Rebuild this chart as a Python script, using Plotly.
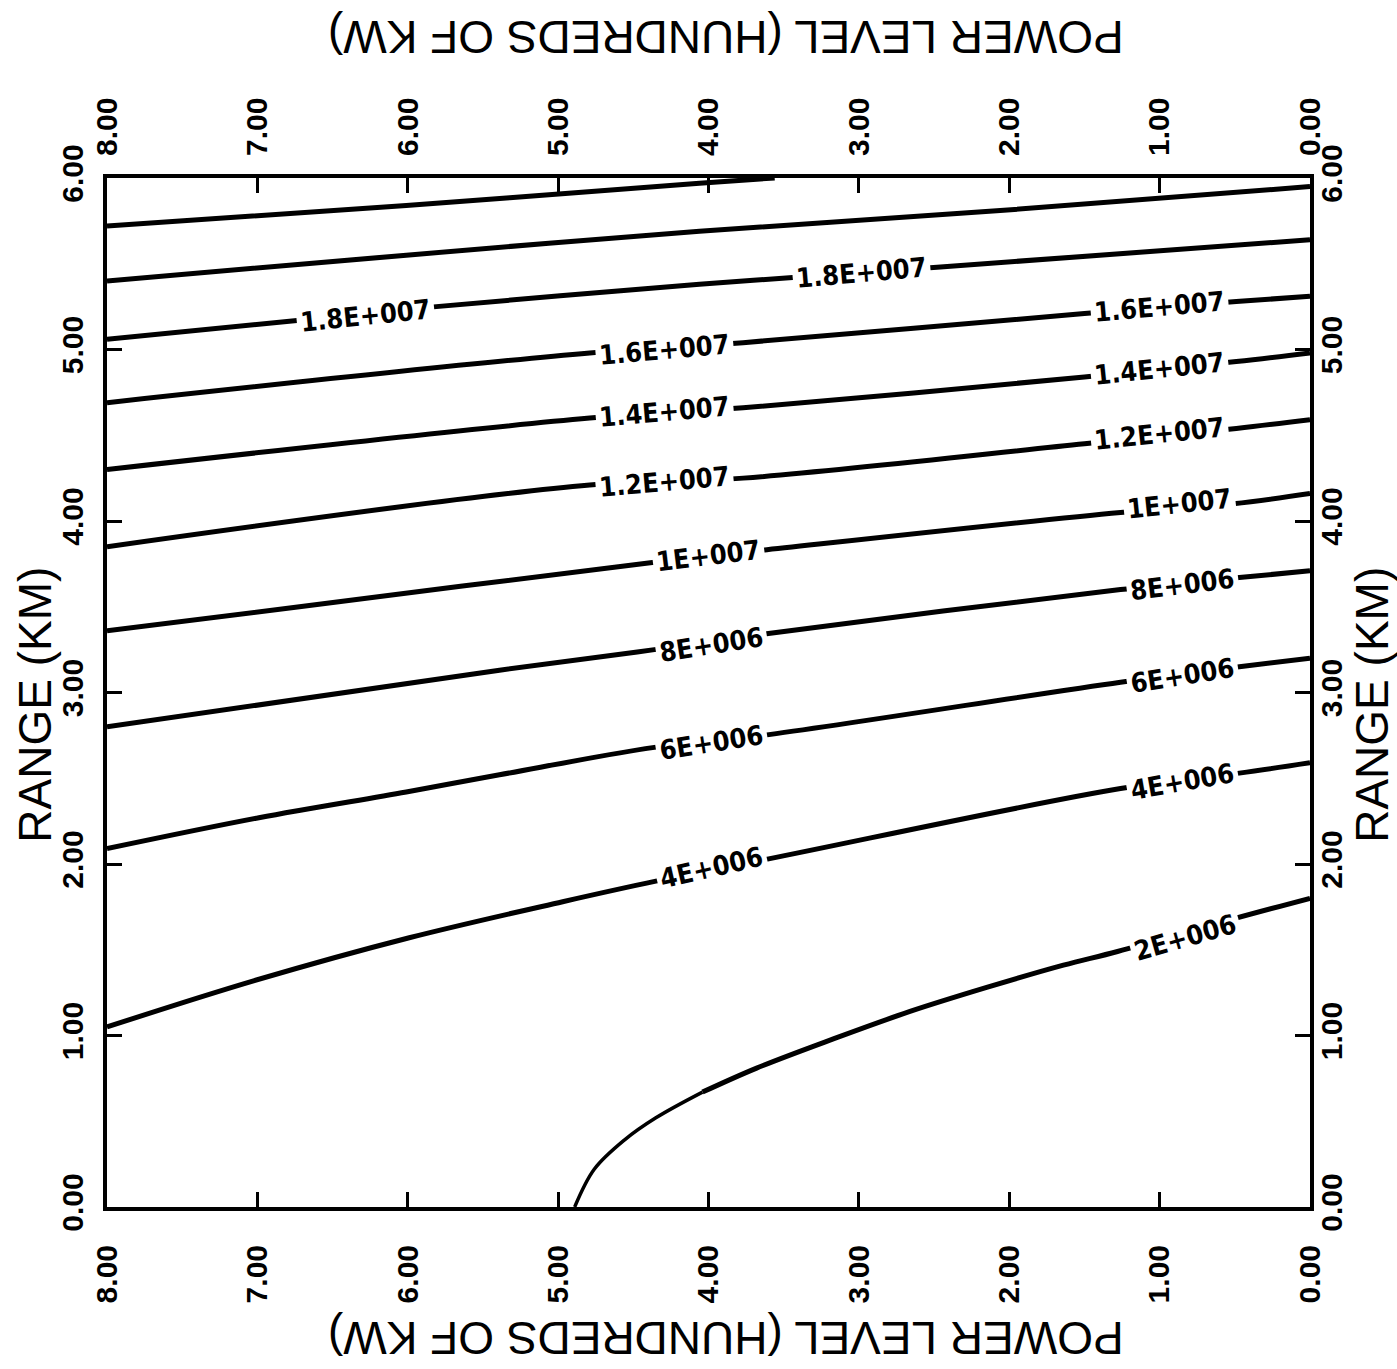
import plotly.graph_objects as go

# ---------------- data (power in hundreds of kW, range in km) ----------------
levels = ["2.2E+007", "2E+007", "1.8E+007", "1.6E+007", "1.4E+007", "1.2E+007",
          "1E+007", "8E+006", "6E+006", "4E+006", "2E+006"]

p_22 = [8.0, 6.01, 4.06, 3.56]
r_22 = [5.72, 5.84, 5.97, 6.0]

p_20 = [8.0, 6.01, 4.06, 2.06, 0.0]
r_20 = [5.40, 5.55, 5.69, 5.81, 5.95]

p_18 = [8.0, 6.72, 5.81, 4.06, 3.44, 2.48, 0.0]
r_18 = [5.06, 5.17, 5.25, 5.38, 5.42, 5.48, 5.64]

p_16 = [8.0, 4.79, 3.77, 1.50, 0.49, 0.0]
r_16 = [4.69, 4.98, 5.04, 5.21, 5.28, 5.31]

p_14 = [8.0, 4.79, 3.77, 1.50, 0.49, 0.0]
r_14 = [4.30, 4.60, 4.66, 4.84, 4.93, 4.98]

p_12 = [8.0, 4.79, 3.77, 1.50, 0.49, 0.0]
r_12 = [3.85, 4.21, 4.25, 4.45, 4.54, 4.59]

p_10 = [8.0, 6.72, 4.36, 3.64, 1.26, 0.51, 0.0]
r_10 = [3.36, 3.50, 3.76, 3.83, 4.05, 4.10, 4.16]

p_8 = [8.0, 5.39, 4.36, 3.64, 1.26, 0.47, 0.0]
r_8 = [2.80, 3.13, 3.25, 3.34, 3.60, 3.67, 3.71]

p_6 = [8.0, 6.99, 6.01, 5.39, 4.36, 3.64, 1.26, 0.47, 0.0]
r_6 = [2.09, 2.27, 2.42, 2.52, 2.68, 2.75, 3.06, 3.15, 3.20]

p_4 = [8.0, 7.02, 5.99, 4.97, 4.35, 3.60, 1.26, 0.47, 0.0]
r_4 = [1.05, 1.32, 1.57, 1.78, 1.90, 2.03, 2.44, 2.53, 2.59]

p_2_low = [4.89, 4.76, 4.56, 4.35, 4.04]
r_2_low = [0.00, 0.22, 0.39, 0.52, 0.67]
p_2 = [4.04, 3.68, 3.17, 2.66, 2.15, 1.64, 1.28, 0.51, 0.0]
r_2 = [0.67, 0.81, 0.98, 1.14, 1.28, 1.41, 1.49, 1.68, 1.80]

label_text = ["1.8E+007", "1.8E+007", "1.6E+007", "1.6E+007", "1.4E+007", "1.4E+007",
              "1.2E+007", "1.2E+007", "1E+007", "1E+007", "8E+006", "8E+006",
              "6E+006", "6E+006", "4E+006", "4E+006", "2E+006"]
label_p = [6.28, 2.98, 4.29, 1.00, 4.29, 1.00, 4.29, 1.00, 4.00, 0.87,
           3.98, 0.85, 3.98, 0.85, 3.98, 0.85, 0.83]
label_r = [5.20, 5.45, 5.00, 5.25, 4.64, 4.89, 4.23, 4.51, 3.80, 4.10,
           3.28, 3.63, 2.71, 3.10, 1.98, 2.48, 1.57]

tick_vals = [0, 1, 2, 3, 4, 5, 6, 7, 8]
y_tick_vals = [0, 1, 2, 3, 4, 5, 6]

x_title = "POWER LEVEL (HUNDREDS OF KW)"
y_title = "RANGE (KM)"

# ---------------- style ----------------
label_angle = [-6, -5, -5, -5, -5, -6, -5, -6, -7, -6, -9, -7, -9, -9, -13, -10, -16]
LINE_W = 5

fig = go.Figure()

curves = [(p_22, r_22), (p_20, r_20), (p_18, r_18), (p_16, r_16), (p_14, r_14),
          (p_12, r_12), (p_10, r_10), (p_8, r_8), (p_6, r_6), (p_4, r_4), (p_2, r_2)]
for px, ry in curves:
    fig.add_trace(go.Scatter(x=px, y=ry, mode="lines",
                             line=dict(color="black", width=LINE_W, shape="spline", smoothing=1.0),
                             hoverinfo="skip", showlegend=False))
fig.add_trace(go.Scatter(x=p_2_low, y=r_2_low, mode="lines",
                         line=dict(color="black", width=3.5, shape="spline", smoothing=1.0),
                         hoverinfo="skip", showlegend=False))
# invisible trace to activate the mirrored top/right axes
fig.add_trace(go.Scatter(x=[8, 0], y=[0, 6], xaxis="x2", yaxis="y2", mode="markers",
                         marker=dict(opacity=0), hoverinfo="skip", showlegend=False))

label_font = dict(family="Liberation Sans Narrow, DejaVu Sans Condensed, Liberation Sans",
                  size=27, color="black", weight="bold")
for t, xv, yv, a in zip(label_text, label_p, label_r, label_angle):
    fig.add_annotation(x=xv, y=yv, xref="x", yref="y", text=t, showarrow=False,
                       textangle=a, font=label_font, bgcolor="white", borderpad=3)

tick_font = dict(family="Liberation Sans, Arial", size=30, color="black", weight="bold")
axis_common = dict(showgrid=False, zeroline=False, showline=True, linecolor="black",
                   linewidth=4, ticks="inside", ticklen=15, tickwidth=3, tickcolor="black",
                   tickfont=tick_font, tickangle=-90, tickformat=".2f")

fig.update_layout(
    width=1397, height=1369,
    margin=dict(l=107, r=87, t=178, b=162),
    paper_bgcolor="white", plot_bgcolor="white",
    xaxis=dict(range=[8, 0], tickvals=tick_vals, side="bottom", ticklabelstandoff=22, **axis_common),
    xaxis2=dict(range=[8, 0], tickvals=tick_vals, side="top", overlaying="x", anchor="y",
                ticklabelstandoff=12, **axis_common),
    yaxis=dict(range=[0, 6], tickvals=y_tick_vals, side="left", ticklabelstandoff=8, **axis_common),
    yaxis2=dict(range=[0, 6], tickvals=y_tick_vals, side="right", overlaying="y", anchor="x",
                ticklabelstandoff=-8, **axis_common),
)

title_font = dict(family="Liberation Sans, Arial", size=46, color="black")
fig.add_annotation(x=0.514, y=1.137, xref="paper", yref="paper", text=x_title, showarrow=False,
                   textangle=180, font=title_font, xanchor="center", yanchor="middle")
fig.add_annotation(x=0.514, y=-0.128, xref="paper", yref="paper", text=x_title, showarrow=False,
                   textangle=180, font=title_font, xanchor="center", yanchor="middle")
range_font = dict(family="Liberation Sans, Arial", size=46, color="black")
fig.add_annotation(x=-0.060, y=0.488, xref="paper", yref="paper", text=y_title, showarrow=False,
                   textangle=-90, font=range_font, xanchor="center", yanchor="middle")
fig.add_annotation(x=1.0515, y=0.488, xref="paper", yref="paper", text=y_title, showarrow=False,
                   textangle=-90, font=range_font, xanchor="center", yanchor="middle")

fig.write_html("out.html")
